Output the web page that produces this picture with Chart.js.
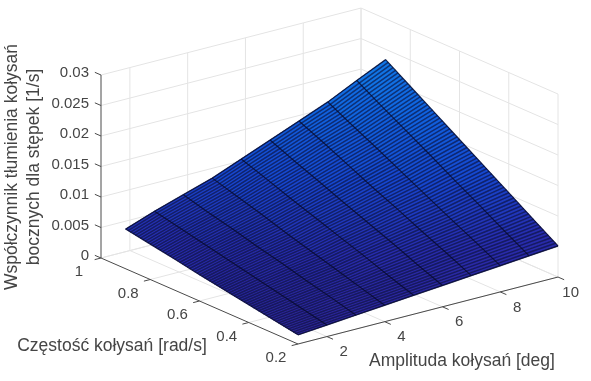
<!DOCTYPE html>
<html>
<head>
<meta charset="utf-8">
<script src="https://cdn.jsdelivr.net/npm/chart.js@4"></script>
<style>
  body { margin: 0; background: #fff; }
  canvas { display: block; }
</style>
</head>
<body>
<canvas id="chart" width="591" height="381"></canvas>
<script>
const amplitudes = [1, 2, 3, 4, 5, 6, 7, 8, 9, 10];
const frequencies = [0.2, 0.3, 0.4, 0.5, 0.6, 0.7, 0.8, 0.9];
const damping = [
  [0.0015, 0.0019, 0.0023, 0.0027, 0.0031, 0.0035, 0.0039, 0.0043, 0.0047, 0.0051],
  [0.0022, 0.0028, 0.0034, 0.0039, 0.0045, 0.0051, 0.0058, 0.0064, 0.0070, 0.0077],
  [0.0029, 0.0037, 0.0044, 0.0051, 0.0060, 0.0068, 0.0076, 0.0084, 0.0094, 0.0103],
  [0.0036, 0.0046, 0.0055, 0.0063, 0.0074, 0.0084, 0.0095, 0.0105, 0.0117, 0.0129],
  [0.0043, 0.0055, 0.0065, 0.0075, 0.0088, 0.0100, 0.0113, 0.0126, 0.0141, 0.0155],
  [0.0051, 0.0064, 0.0076, 0.0088, 0.0102, 0.0117, 0.0132, 0.0147, 0.0164, 0.0181],
  [0.0058, 0.0073, 0.0086, 0.0100, 0.0117, 0.0133, 0.0151, 0.0167, 0.0187, 0.0207],
  [0.0065, 0.0082, 0.0097, 0.0112, 0.0131, 0.0150, 0.0169, 0.0188, 0.0211, 0.0233],
];
const ampTicks = [2, 4, 6, 8, 10];
const freqTicks = [0.2, 0.4, 0.6, 0.8, 1];
const zTicks = [0, 0.005, 0.01, 0.015, 0.02, 0.025, 0.03];
const zTickLabels = ["0", "0.005", "0.01", "0.015", "0.02", "0.025", "0.03"];
const freqTickLabels = ["0.2", "0.4", "0.6", "0.8", "1"];

const ampMin = 1, ampMax = 10, freqMin = 0.2, freqMax = 1, zMax = 0.03;
// mesh lines drawn per 0.1 of frequency, like the dense surf edges of the original
const meshPerRow = 10;

// fixed view of the 3d box on the page
const project = (a, f, z) => ({
  x: 298 + (a - 1) * 28.89 - (f - 0.2) * 246.25,
  y: 344 - (a - 1) * 7.44 - (f - 0.2) * 107.5 - z * 6100,
});

const surfaceAt = (col, rowPos) => {
  const i = Math.min(Math.floor(rowPos), frequencies.length - 2);
  const t = rowPos - i;
  return damping[i][col] * (1 - t) + damping[i + 1][col] * t;
};
const freqAt = (rowPos) => {
  const i = Math.min(Math.floor(rowPos), frequencies.length - 2);
  const t = rowPos - i;
  return frequencies[i] * (1 - t) + frequencies[i + 1] * t;
};

const colorStops = [
  [0, [48, 36, 146]],
  [0.006, [40, 44, 172]],
  [0.012, [22, 72, 208]],
  [0.018, [16, 100, 224]],
  [0.0233, [18, 124, 232]],
];
const surfaceColor = (z) => {
  for (let i = 1; i < colorStops.length; i++) {
    if (z <= colorStops[i][0]) {
      const [z0, c0] = colorStops[i - 1];
      const [z1, c1] = colorStops[i];
      const t = (z - z0) / (z1 - z0);
      return "rgb(" + c0.map((c, k) => Math.round(c + (c1[k] - c) * t)).join(",") + ")";
    }
  }
  return "rgb(18,124,232)";
};

const lineSet = (points, color, width) => ({
  data: points,
  showLine: true,
  borderColor: color,
  borderWidth: width,
  pointRadius: 0,
  fill: false,
});

const surfaceSets = [];
const wireSets = [];
const backSets = [];

const rows = (frequencies.length - 1) * meshPerRow;
for (let r = 0; r < rows; r++) {
  const p0 = r / meshPerRow, p1 = (r + 1) / meshPerRow;
  for (let c = 0; c < amplitudes.length - 1; c++) {
    const z00 = surfaceAt(c, p0), z10 = surfaceAt(c + 1, p0);
    const z01 = surfaceAt(c, p1), z11 = surfaceAt(c + 1, p1);
    surfaceSets.push({
      data: [
        project(amplitudes[c], freqAt(p0), z00),
        project(amplitudes[c + 1], freqAt(p0), z10),
        project(amplitudes[c + 1], freqAt(p1), z11),
        project(amplitudes[c], freqAt(p1), z01),
        project(amplitudes[c], freqAt(p0), z00),
      ],
      showLine: true,
      borderWidth: 0.6,
      borderColor: surfaceColor((z00 + z10 + z01 + z11) / 4),
      backgroundColor: surfaceColor((z00 + z10 + z01 + z11) / 4),
      pointRadius: 0,
      fill: "shape",
    });
  }
}

// rows of the mesh, along amplitude
for (let r = 0; r <= rows; r++) {
  const p = r / meshPerRow;
  const pts = amplitudes.map((a, c) => project(a, freqAt(p), surfaceAt(c, p)));
  wireSets.push(lineSet(pts, "rgba(5,10,50,0.62)", 1.5));
}
// columns, one per degree
amplitudes.forEach((a, c) => {
  const pts = frequencies.map((f, i) => project(a, f, damping[i][c]));
  wireSets.push(lineSet(pts, "rgba(3,6,35,0.75)", 1.2));
});
// outer edge of the surface
wireSets.push(lineSet(amplitudes.map((a, c) => project(a, frequencies[0], damping[0][c])), "rgba(3,6,35,0.7)", 1));
wireSets.push(lineSet(amplitudes.map((a, c) => project(a, 0.9, damping[7][c])), "rgba(3,6,35,0.7)", 1));

// walls and floor grid
const gridColor = "#e4e4e4";
ampTicks.forEach((a) => {
  backSets.push(lineSet([project(a, freqMin, 0), project(a, freqMax, 0), project(a, freqMax, zMax)], gridColor, 1));
});
freqTicks.forEach((f) => {
  backSets.push(lineSet([project(ampMin, f, 0), project(ampMax, f, 0), project(ampMax, f, zMax)], gridColor, 1));
});
zTicks.forEach((z) => {
  backSets.push(lineSet([project(ampMin, freqMax, z), project(ampMax, freqMax, z), project(ampMax, freqMin, z)], gridColor, 1));
});

// axes and tick marks
const axisColor = "#4a4a4a";
const axisSets = [
  lineSet([project(ampMin, freqMax, 0), project(ampMin, freqMax, zMax)], axisColor, 1),
  lineSet([project(ampMin, freqMax, 0), project(ampMin, freqMin, 0)], axisColor, 1),
  lineSet([project(ampMin, freqMin, 0), project(ampMax, freqMin, 0)], axisColor, 1),
];
zTicks.forEach((z) => {
  axisSets.push(lineSet([project(ampMin, freqMax, z), project(ampMin, freqMax + 0.025, z)], axisColor, 1));
});
freqTicks.forEach((f) => {
  axisSets.push(lineSet([project(ampMin, f, 0), project(ampMin - 0.22, f, 0)], axisColor, 1));
});
ampTicks.forEach((a) => {
  axisSets.push(lineSet([project(a, freqMin, 0), project(a, freqMin - 0.025, 0)], axisColor, 1));
});

const textColor = "#454545";
const labelsPlugin = {
  id: "labels3d",
  afterDraw(chart) {
    const { ctx, scales } = chart;
    const put = (text, px, py, align, size, rot) => {
      ctx.save();
      ctx.translate(scales.x.getPixelForValue(px), scales.y.getPixelForValue(py));
      if (rot) ctx.rotate(rot);
      ctx.font = size + 'px "Liberation Sans", Arial, sans-serif';
      ctx.fillStyle = textColor;
      ctx.textAlign = align;
      ctx.textBaseline = "middle";
      ctx.fillText(text, 0, 0);
      ctx.restore();
    };
    zTicks.forEach((z, i) => {
      const p = project(ampMin, freqMax, z);
      put(zTickLabels[i], p.x - 12, p.y - 2, "right", 15);
    });
    freqTicks.forEach((f, i) => {
      const p = project(ampMin, f, 0);
      put(freqTickLabels[i], p.x - 22, p.y + 14, "center", 15);
    });
    ampTicks.forEach((a) => {
      const p = project(a, freqMin, 0);
      put(String(a), p.x + 21, p.y + 15.5, "right", 15);
    });
    put("Współczynnik tłumienia kołysań", 12, 167, "center", 17.5, -Math.PI / 2);
    put("bocznych dla stępek [1/s]", 34, 167, "center", 17.5, -Math.PI / 2);
    put("Częstość kołysań [rad/s]", 112, 346, "center", 17.5);
    put("Amplituda kołysań [deg]", 462, 361, "center", 17.5);
  },
};

new Chart(document.getElementById("chart"), {
  type: "scatter",
  data: { datasets: [...wireSets, ...surfaceSets, ...axisSets, ...backSets] },
  options: {
    responsive: false,
    animation: false,
    events: [],
    layout: { padding: 0 },
    scales: {
      x: { type: "linear", min: 0, max: 591, display: false },
      y: { type: "linear", min: 0, max: 381, reverse: true, display: false },
    },
    plugins: {
      legend: { display: false },
      tooltip: { enabled: false },
    },
  },
  plugins: [labelsPlugin],
});
</script>
</body>
</html>
